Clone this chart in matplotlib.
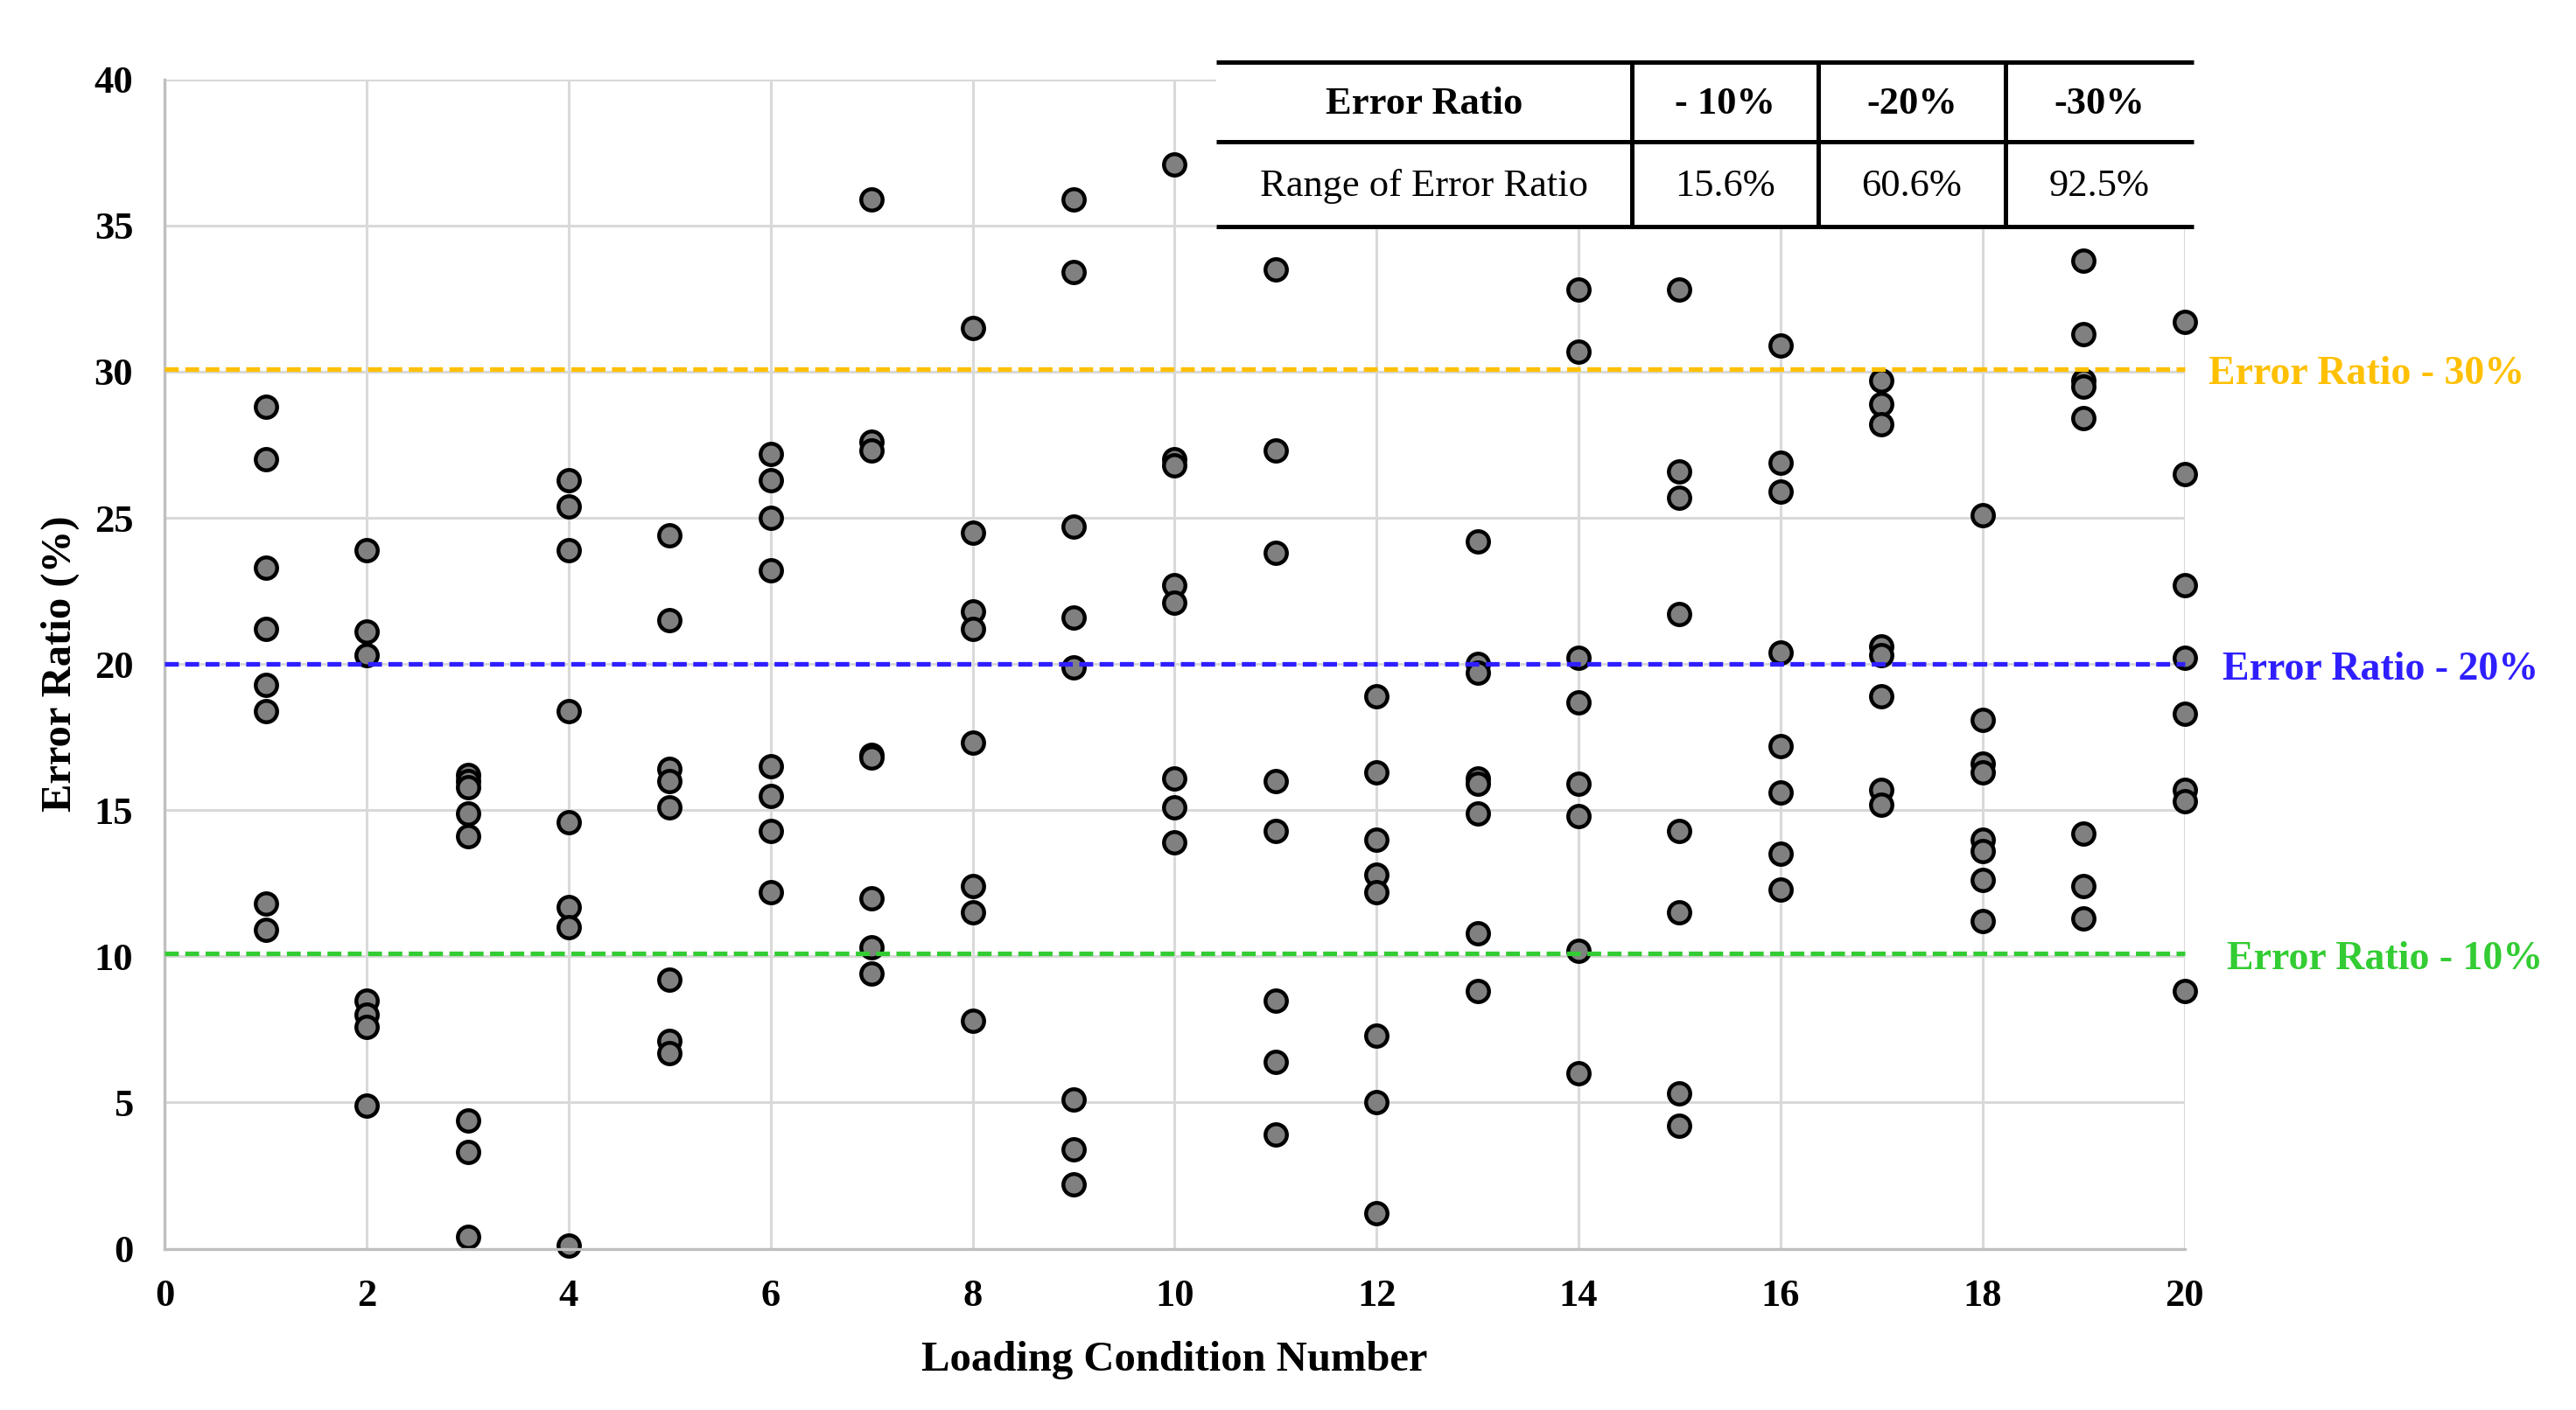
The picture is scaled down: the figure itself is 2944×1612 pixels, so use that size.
import matplotlib
matplotlib.use('Agg')
import matplotlib.pyplot as plt

plt.rcParams['font.family'] = ['Liberation Serif', 'DejaVu Serif']

# values
conditions = list(range(1, 21))
error_ratio = [
    [28.8, 27.0, 23.3, 21.2, 19.3, 18.4, 11.8, 10.9],   # 1
    [23.9, 21.1, 20.3, 8.5, 8.0, 7.6, 4.9],              # 2
    [16.2, 16.0, 15.8, 14.9, 14.1, 4.4, 3.3, 0.4],       # 3
    [26.3, 25.4, 23.9, 18.4, 14.6, 11.7, 11.0, 0.1],     # 4
    [24.4, 21.5, 16.4, 16.0, 15.1, 9.2, 7.1, 6.7],       # 5
    [27.2, 26.3, 25.0, 23.2, 16.5, 15.5, 14.3, 12.2],    # 6
    [35.9, 27.6, 27.3, 16.9, 16.8, 12.0, 10.3, 9.4],     # 7
    [31.5, 24.5, 21.8, 21.2, 17.3, 12.4, 11.5, 7.8],     # 8
    [35.9, 33.4, 24.7, 21.6, 19.9, 5.1, 3.4, 2.2],       # 9
    [37.1, 27.0, 26.8, 22.7, 22.1, 16.1, 15.1, 13.9],    # 10
    [33.5, 27.3, 23.8, 16.0, 14.3, 8.5, 6.4, 3.9],       # 11
    [18.9, 16.3, 14.0, 12.8, 12.2, 7.3, 5.0, 1.2],       # 12
    [24.2, 20.0, 19.7, 16.1, 15.9, 14.9, 10.8, 8.8],     # 13
    [32.8, 30.7, 20.2, 18.7, 15.9, 14.8, 10.2, 6.0],     # 14
    [32.8, 26.6, 25.7, 21.7, 14.3, 11.5, 5.3, 4.2],      # 15
    [30.9, 26.9, 25.9, 20.4, 17.2, 15.6, 13.5, 12.3],    # 16
    [29.7, 28.9, 28.2, 20.6, 20.3, 18.9, 15.7, 15.2],    # 17
    [25.1, 18.1, 16.6, 16.3, 14.0, 13.6, 12.6, 11.2],    # 18
    [33.8, 31.3, 29.7, 29.5, 28.4, 14.2, 12.4, 11.3],    # 19
    [31.7, 26.5, 22.7, 20.2, 18.3, 15.7, 15.3, 8.8],     # 20
]

line_levels = [30.1, 20.0, 10.1]
line_labels = ['Error Ratio - 30%', 'Error Ratio - 20%', 'Error Ratio - 10%']
line_colors = ['#FFC000', '#2F1FFF', '#33CC33']
label_x = [20.24, 20.38, 20.42]

table_header = ['Error Ratio', '- 10%', '-20%', '-30%']
table_values = ['Range of Error Ratio', '15.6%', '60.6%', '92.5%']

fig = plt.figure(figsize=(14.72, 8.06), dpi=200)
ax = fig.add_axes([0.064, 0.1144, 0.784, 0.8293])

for c, vals in zip(conditions, error_ratio):
    ax.plot([c] * len(vals), vals, 'o', ms=8.8, mfc='#808080', mec='black',
            mew=1.6, clip_on=False, zorder=2)

for lvl, lab, col, lx in zip(line_levels, line_labels, line_colors, label_x):
    ax.plot([0, 20], [lvl, lvl], color=col, lw=1.9, dashes=(3, 1.4),
            zorder=3, clip_on=False)
    ax.text(lx, lvl - 0.2, lab, color=col, fontsize=16.5, fontweight='bold',
            ha='left', va='center')

ax.set_xlim(0, 20)
ax.set_ylim(0, 40)
ax.set_xticks(range(0, 21, 2))
ax.set_yticks(range(0, 41, 5))
ax.grid(True, color='#D9D9D9', lw=1.1)
ax.set_axisbelow(True)
for side in ['top', 'right']:
    ax.spines[side].set_visible(False)
for side in ['bottom', 'left']:
    ax.spines[side].set_color('#BFBFBF')
    ax.spines[side].set_linewidth(1.2)
ax.tick_params(axis='both', length=0, labelsize=16)
ax.tick_params(axis='x', pad=12.5)
ax.tick_params(axis='y', pad=13)
for t in ax.get_xticklabels() + ax.get_yticklabels():
    t.set_fontweight('bold')

ax.set_xlabel('Loading Condition Number', fontsize=17.5, fontweight='bold')
ax.set_ylabel('Error Ratio (%)', fontsize=17.5, fontweight='bold')
ax.xaxis.set_label_coords(0.5, -0.079)
ax.yaxis.set_label_coords(-0.042, 0.5)

# summary table in the upper right
tab = fig.add_axes([0.4721, 0.8395, 0.3795, 0.1162])
tab.set_xlim(0, 1)
tab.set_ylim(0, 1)
tab.set_facecolor('white')
tab.set_xticks([])
tab.set_yticks([])
for s in tab.spines.values():
    s.set_visible(False)

mid = 0.516
vlines = [0.4253, 0.6158, 0.8074]
for y in [0, mid, 1]:
    tab.plot([0, 1], [y, y], color='black', lw=1.8, clip_on=False,
             solid_capstyle='butt')
for x in vlines:
    tab.plot([x, x], [0, 1], color='black', lw=1.8, clip_on=False,
             solid_capstyle='butt')

edges = [0] + vlines + [1]
centers = [(edges[i] + edges[i + 1]) / 2 for i in range(4)]
for cx, h, v in zip(centers, table_header, table_values):
    tab.text(cx, 0.745, h, fontsize=16, fontweight='bold', ha='center', va='center')
    tab.text(cx, 0.245, v, fontsize=16, ha='center', va='center')

fig.savefig('out.png', dpi=200)
